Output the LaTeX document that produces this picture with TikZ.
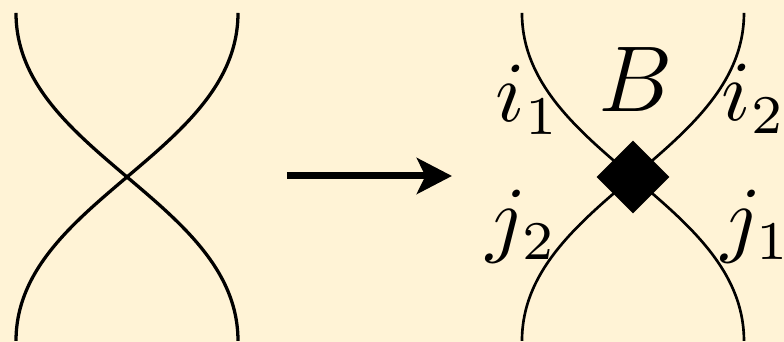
\documentclass[tikz,border=0pt]{standalone}
\usetikzlibrary{shapes.geometric,arrows.meta}
\definecolor{bg}{RGB}{255,243,214}
\tikzset{
  strand/.style={line width=0.42pt},
  strandB/.style={line width=0.34pt},
  lab/.style={inner sep=0pt, anchor=base, font=\fontsize{10.5}{12}\selectfont},
  biglab/.style={inner sep=0pt, anchor=base, font=\fontsize{12.6}{15}\selectfont},
  vertex/.style={diamond, fill=black, draw=none, inner sep=0pt, minimum size=9.5pt},
  bigarrow/.style={line width=0.9pt, -{Stealth[length=4.5pt,width=4.6pt,inset=1.1pt]}}
}
\begin{document}
\begin{tikzpicture}[x=0.1282pt,y=-0.1282pt]
\fill[bg] (0,0) rectangle (784,342);
\useasboundingbox (0,0) rectangle (784,342);
% left crossing
\coordinate (lt1) at (16,13);
\coordinate (lt2) at (238,13);
\coordinate (lb1) at (16,341);
\coordinate (lb2) at (238,341);
\draw[strand] (lt1) .. controls (16,153) and (238,201) .. (lb2);
\draw[strand] (lt2) .. controls (238,153) and (16,201) .. (lb1);
% arrow
\coordinate (a0) at (287,176);
\coordinate (a1) at (452,176);
\draw[bigarrow] (a0) -- (a1);
% right vertex
\coordinate (rt1) at (522,13);
\coordinate (rt2) at (744,13);
\coordinate (rb1) at (522,341);
\coordinate (rb2) at (744,341);
\draw[strandB] (rt1) .. controls (522,153) and (744,201) .. (rb2);
\draw[strandB] (rt2) .. controls (744,153) and (522,201) .. (rb1);
\node[vertex] (v) at (633,177) {};
\node[biglab] (B) at (636,112) {$B$};
\node[lab] (i1) at (528,121.5) {$i_1$};
\node[lab] (i2) at (754,121) {$i_2$};
\node[lab] (j2) at (522,246.5) {$j_2$};
\node[lab] (j1) at (756.5,246.5) {$j_1$};
\end{tikzpicture}
\end{document}
